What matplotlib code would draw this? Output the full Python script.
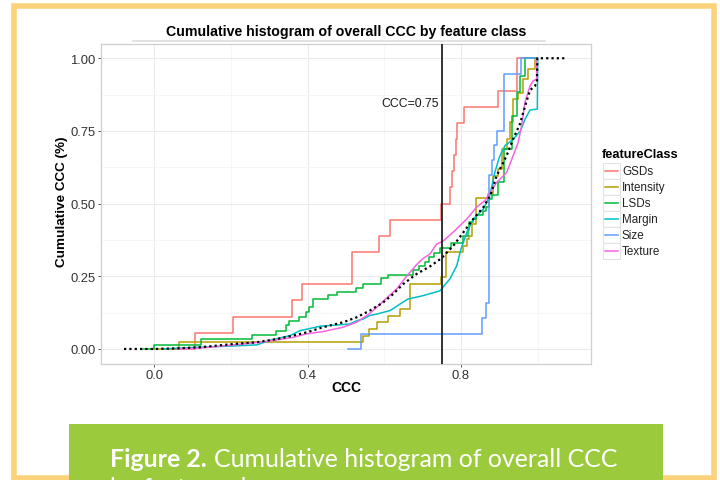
import matplotlib
matplotlib.use("Agg")
import matplotlib.pyplot as plt
from matplotlib.patches import Rectangle
from matplotlib.lines import Line2D

plt.rcParams['font.family'] = ['Liberation Sans', 'DejaVu Sans']

W, H = 720, 481

classes = ["GSDs", "Intensity", "LSDs", "Margin", "Size", "Texture"]
colors = ["#F8766D", "#B79F00", "#00BA38", "#00BFC4", "#619CFF", "#F564E3"]

# step series (x where a step starts, cumulative level from that x)
gsds_x = [0.04, 0.107, 0.204, 0.36, 0.385, 0.516, 0.586, 0.615, 0.748, 0.771, 0.777,
          0.782, 0.787, 0.790, 0.808, 0.897, 0.946, 0.998]
gsds_y = [0.0, 0.056, 0.111, 0.167, 0.222, 0.333, 0.389, 0.444, 0.5, 0.556, 0.611,
          0.667, 0.722, 0.778, 0.833, 0.889, 1.0, 1.0]

intensity_x = [0.0, 0.065, 0.545, 0.56, 0.58, 0.609, 0.64, 0.667, 0.748, 0.762, 0.806,
               0.815, 0.821, 0.828, 0.84, 0.871, 0.884, 0.897, 0.906, 0.919, 0.927,
               0.936, 0.949, 0.962, 0.975, 0.993, 0.998]
intensity_y = [0.0, 0.023, 0.046, 0.069, 0.092, 0.115, 0.138, 0.223, 0.247, 0.333, 0.355,
               0.378, 0.39, 0.43, 0.52, 0.533, 0.596, 0.62, 0.688, 0.722, 0.78,
               0.86, 0.88, 0.928, 0.963, 1.0, 1.0]

lsds_x = [-0.03, 0.0, 0.121, 0.254, 0.317, 0.343, 0.352, 0.378, 0.396, 0.404, 0.413,
          0.454, 0.476, 0.526, 0.545, 0.591, 0.61, 0.675, 0.69, 0.705, 0.717, 0.73,
          0.745, 0.775, 0.806, 0.819, 0.822, 0.832, 0.84, 0.858, 0.865, 0.874, 0.88,
          0.897, 0.912, 0.932, 0.947, 0.955, 0.967, 0.998]
lsds_y = [0.0, 0.014, 0.035, 0.047, 0.061, 0.083, 0.097, 0.109, 0.126, 0.143, 0.172,
          0.185, 0.197, 0.209, 0.224, 0.244, 0.256, 0.27, 0.286, 0.30, 0.315, 0.33,
          0.346, 0.363, 0.388, 0.41, 0.436, 0.447, 0.461, 0.476, 0.49, 0.516, 0.53,
          0.573, 0.688, 0.80, 0.883, 0.94, 1.0, 1.0]

size_x = [0.506, 0.538, 0.855, 0.865, 0.874, 0.880, 0.887, 0.895, 0.913, 0.957, 0.998]
size_y = [0.0, 0.053, 0.105, 0.158, 0.60, 0.65, 0.70, 0.75, 0.947, 1.0, 1.0]

# near-continuous series
margin_x = [0.02, 0.1, 0.2, 0.267, 0.30, 0.354, 0.38, 0.432, 0.51, 0.528, 0.545, 0.562,
            0.58, 0.615, 0.645, 0.662, 0.70, 0.745, 0.771, 0.789, 0.80, 0.815, 0.832,
            0.858, 0.875, 0.888, 0.90, 0.915, 0.935, 0.955, 0.967, 0.98, 0.999, 1.0]
margin_y = [0.0, 0.005, 0.01, 0.014, 0.029, 0.046, 0.063, 0.078, 0.086, 0.097, 0.103, 0.115,
            0.12, 0.132, 0.158, 0.172, 0.183, 0.20, 0.241, 0.287, 0.344, 0.401, 0.447,
            0.481, 0.527, 0.607, 0.66, 0.70, 0.72, 0.75, 0.79, 0.822, 0.825, 1.0]

texture_x = [0.06, 0.12, 0.206, 0.276, 0.319, 0.362, 0.397, 0.441, 0.493, 0.528, 0.562,
             0.59, 0.61, 0.632, 0.658, 0.684, 0.70, 0.719, 0.736, 0.754, 0.784, 0.815,
             0.84, 0.862, 0.893, 0.919, 0.936, 0.949, 0.958, 0.967, 0.98, 0.988, 0.997, 0.998]
texture_y = [0.0, 0.003, 0.014, 0.023, 0.031, 0.04, 0.052, 0.06, 0.075, 0.092, 0.122,
             0.155, 0.18, 0.206, 0.25, 0.29, 0.31, 0.327, 0.36, 0.372, 0.407, 0.447,
             0.487, 0.51, 0.573, 0.607, 0.665, 0.71, 0.768, 0.85, 0.905, 0.922, 0.928, 1.0]

overall_x = [-0.079, 0.0, 0.058, 0.12, 0.206, 0.267, 0.319, 0.362, 0.397, 0.441, 0.493,
             0.528, 0.562, 0.597, 0.623, 0.649, 0.684, 0.719, 0.749, 0.78, 0.806, 0.832,
             0.858, 0.877, 0.893, 0.919, 0.936, 0.954, 0.967, 0.98, 0.993, 0.998, 0.999, 1.076]
overall_y = [0.0, 0.0, 0.002, 0.006, 0.017, 0.023, 0.034, 0.046, 0.057, 0.075, 0.092,
             0.109, 0.132, 0.16, 0.189, 0.223, 0.258, 0.284, 0.312, 0.355, 0.401, 0.447,
             0.487, 0.53, 0.596, 0.665, 0.722, 0.775, 0.835, 0.89, 0.905, 0.92, 1.0, 1.0]

series = {
    "GSDs": (gsds_x, gsds_y, "steps-post"),
    "Intensity": (intensity_x, intensity_y, "steps-post"),
    "LSDs": (lsds_x, lsds_y, "steps-post"),
    "Margin": (margin_x, margin_y, "default"),
    "Size": (size_x, size_y, "steps-post"),
    "Texture": (texture_x, texture_y, "default"),
}

x_ticks = [0.0, 0.4, 0.8]
x_tick_labels = ["0.0", "0.4", "0.8"]
y_ticks = [0.0, 0.25, 0.5, 0.75, 1.0]
y_tick_labels = ["0.00", "0.25", "0.50", "0.75", "1.00"]
cutoff = 0.75


def fx(px):
    return px / W


def fy(py):
    return 1 - py / H


fig = plt.figure(figsize=(W / 100, H / 100), dpi=100)
fig.patch.set_facecolor("white")

# yellow frame
fig.add_artist(Rectangle((fx(14), fy(478.5)), fx(714) - fx(14), fy(6.5) - fy(478.5),
                         transform=fig.transFigure, fill=False, edgecolor="#FDD27B",
                         linewidth=4.0, zorder=0))

ax = fig.add_axes([fx(101), fy(364.5), fx(591) - fx(101), fy(44.7) - fy(364.5)])
ax.set_xlim(-0.139, 1.139)
ax.set_ylim(-0.05, 1.05)
ax.set_facecolor("white")
for s in ax.spines.values():
    s.set_color("#CFCFCF")
    s.set_linewidth(0.9)

ax.set_xticks(x_ticks)
ax.set_xticklabels(x_tick_labels)
ax.set_yticks(y_ticks)
ax.set_yticklabels(y_tick_labels)
ax.set_xticks([0.2, 0.6, 1.0], minor=True)
ax.set_yticks([0.125, 0.375, 0.625, 0.875], minor=True)
ax.grid(which="major", color="#EBEBEB", linewidth=0.8)
ax.grid(which="minor", color="#F5F5F5", linewidth=0.6)
ax.set_axisbelow(True)
ax.tick_params(which="major", length=2.3, width=0.7, color="#555555", pad=1.5,
               labelsize=9.4, labelcolor="#333333")
ax.tick_params(which="minor", length=0)

for name, col in zip(classes, colors):
    xs, ys, ds = series[name]
    ax.plot(xs, ys, color=col, linewidth=1.1, drawstyle=ds, zorder=3)

ax.plot(overall_x, overall_y, color="black", linewidth=1.6, linestyle=(0, (1, 1.4)),
        dash_capstyle="butt", zorder=4)

ax.axvline(cutoff, color="#222222", linewidth=1.3, zorder=5)
ax.text(0.743, 0.846, "CCC=0.75", ha="right", va="center", fontsize=8.8, color="#1a1a1a")

# titles
fig.text(fx(346), fy(32), "Cumulative histogram of overall CCC by feature class",
         ha="center", va="center", fontsize=10.2, fontweight="bold")
fig.add_artist(Line2D([fx(133), fx(545)], [fy(41.5), fy(41.5)], transform=fig.transFigure,
                      color="#DDDDDD", linewidth=1.2))
fig.text(fx(346), fy(388), "CCC", ha="center", va="center", fontsize=10, fontweight="bold")
fig.text(fx(61.7), fy(201.7), "Cumulative CCC (%)", ha="center", va="center",
         rotation=90, fontsize=9.7, fontweight="bold")

# legend
fig.text(fx(602), fy(155), "featureClass", ha="left", va="center", fontsize=9.2,
         fontweight="bold")
for i, (name, col) in enumerate(zip(classes, colors)):
    cy = 171.7 + 16 * i
    fig.add_artist(Rectangle((fx(602.5), fy(cy + 8)), fx(17), 16 / H,
                             transform=fig.transFigure, facecolor="white",
                             edgecolor="#E3E3E3", linewidth=0.8))
    fig.add_artist(Line2D([fx(604.5), fx(617.5)], [fy(cy), fy(cy)],
                          transform=fig.transFigure, color=col, linewidth=1.1))
    fig.text(fx(622), fy(cy), name, ha="left", va="center", fontsize=8.4, color="#222222")

# caption box
fig.add_artist(Rectangle((fx(69), 0), fx(663) - fx(69), fy(425),
                         transform=fig.transFigure, facecolor="#9BCB3C",
                         edgecolor="none", zorder=2))
cap_font = ["Lato", "DejaVu Sans"]
cap_size = 17.9
t1 = fig.text(fx(110), fy(467), "Figure 2.", ha="left", va="baseline", fontsize=cap_size,
              fontweight="bold", color="white", family=cap_font, zorder=3)
fig.canvas.draw()
bb = t1.get_window_extent()
fig.text((bb.x1 + 7) / W, fy(467), "Cumulative histogram of overall CCC", ha="left",
         va="baseline", fontsize=cap_size, color="white", family=cap_font, zorder=3)
# second caption line, cut by the lower edge as in the source page
fig.text(fx(110), fy(496), "by feature class", ha="left", va="baseline", fontsize=cap_size,
         color="white", family=cap_font, zorder=3)

fig.savefig("out.png", dpi=100)
